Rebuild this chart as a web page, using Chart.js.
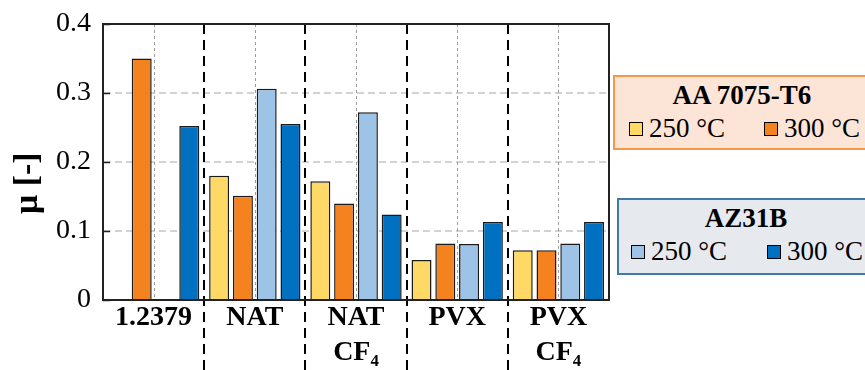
<!DOCTYPE html>
<html><head><meta charset="utf-8">
<script src="https://cdn.jsdelivr.net/npm/chart.js@4"></script>
<style>
html,body{margin:0;padding:0;background:#fff;overflow:hidden;}
#wrap{position:relative;width:865px;height:370px;}
canvas{position:absolute;left:0;top:0;}
.lg{position:absolute;box-sizing:border-box;font-family:"Liberation Serif",serif;color:#000;}
.lg .t{position:absolute;left:0;right:0;text-align:center;font-weight:bold;font-size:27px;line-height:27px;}
.lg .it{position:absolute;display:flex;align-items:center;font-size:27px;line-height:27px;}
.lg .sq{width:14px;height:14px;border:1.5px solid #000;margin-right:6px;box-sizing:border-box;}
</style></head>
<body><div id="wrap"><canvas id="c" width="865" height="370"></canvas></div>
<script>
const categories = ["1.2379", "NAT", ["NAT", "CF\u2084"], "PVX", ["PVX", "CF\u2084"]];
const aa250 = [null, 0.180, 0.172, 0.058, 0.072];
const aa300 = [0.350, 0.151, 0.140, 0.082, 0.072];
const az250 = [null, 0.306, 0.272, 0.081, 0.082];
const az300 = [0.252, 0.255, 0.124, 0.113, 0.113];
const yTicks = ["0", "0.1", "0.2", "0.3", "0.4"];
const yTickValues = [0, 0.1, 0.2, 0.3, 0.4];
const seriesLabels = ["250 \u00B0C", "300 \u00B0C", "250 \u00B0C", "300 \u00B0C"];
const groupTitles = ["AA 7075-T6", "AZ31B"];
const yTitle = "\u03BC [-]";
const colors = ["#FFD966", "#F4831F", "#9DC3E6", "#0070C0"];

const serif = "'Liberation Serif', 'Times New Roman', serif";

const frame = {
  id: 'frame',
  beforeDatasetsDraw(chart) {
    const {ctx, chartArea: a, scales: {x}} = chart;
    ctx.save();
    ctx.strokeStyle = '#9c9c9c';
    ctx.lineWidth = 1;
    ctx.setLineDash([3, 3]);
    for (let i = 0; i < categories.length; i++) {
      const px = Math.round(x.getPixelForValue(i)) + 0.5;
      ctx.beginPath();
      ctx.moveTo(px, a.top);
      ctx.lineTo(px, a.bottom);
      ctx.stroke();
    }
    ctx.restore();
  },
  afterDraw(chart) {
    const {ctx, chartArea: a, scales: {x, y}} = chart;
    ctx.save();
    ctx.strokeStyle = '#000';
    ctx.lineWidth = 2;
    ctx.setLineDash([10, 6]);
    for (let i = 0; i < categories.length - 1; i++) {
      const px = (x.getPixelForValue(i) + x.getPixelForValue(i + 1)) / 2;
      ctx.beginPath();
      ctx.moveTo(Math.round(px), a.top);
      ctx.lineTo(Math.round(px), chart.height);
      ctx.stroke();
    }
    ctx.setLineDash([]);
    ctx.strokeStyle = '#222';
    ctx.strokeRect(a.left, a.top, a.right - a.left, a.bottom - a.top);
    ctx.lineWidth = 1.5;
    yTickValues.forEach(v => {
      const py = Math.round(y.getPixelForValue(v)) + 0.5;
      ctx.beginPath();
      ctx.moveTo(a.left, py);
      ctx.lineTo(a.left + 7, py);
      ctx.stroke();
    });
    ctx.restore();
  }
};

const datasets = [aa250, aa300, az250, az300].map((d, i) => ({
  label: seriesLabels[i],
  data: d,
  backgroundColor: colors[i],
  borderColor: '#1a1a1a',
  borderWidth: 1.5,
  categoryPercentage: 0.94,
  barPercentage: 0.84
}));

new Chart(document.getElementById('c'), {
  type: 'bar',
  data: {labels: categories, datasets},
  options: {
    responsive: false,
    animation: false,
    layout: {padding: {left: 10, right: 256, top: 24, bottom: 0}},
    plugins: {legend: {display: false}, tooltip: {enabled: false}},
    scales: {
      x: {
        grid: {display: false, drawTicks: false},
        border: {display: true, color: '#222', width: 2},
        ticks: {color: '#000', font: {family: serif, size: 28, weight: 'bold', lineHeight: 1.25}, padding: 0, maxRotation: 0, autoSkip: false},
        afterFit(s) { s.height = 70; s.paddingLeft = 0; s.paddingRight = 0; }
      },
      y: {
        min: 0, max: 0.4,
        grid: {color: '#d3d3d3', lineWidth: 2, drawTicks: false},
        border: {display: true, color: '#222', width: 2, dash: [7, 4]},
        ticks: {stepSize: 0.1, color: '#000', padding: 12, font: {family: serif, size: 28},
          callback: (v, i) => yTicks[i]},
        title: {display: true, text: yTitle + '\u00A0\u00A0\u00A0\u00A0\u00A0', color: '#000',
          font: {family: serif, size: 34, weight: 'bold', lineHeight: 1.1}, padding: {top: 0, bottom: 6}},
        afterFit(s) { s.width = 93; s.paddingTop = 0; s.paddingBottom = 0; }
      }
    }
  },
  plugins: [frame]
});

const wrap = document.getElementById('wrap');
const boxes = [
  {left: 613, top: 75, h: 75, fill: '#FCE4D6', border: '#F59A4A', idx: [0, 1], sq: [14, 149]},
  {left: 617, top: 198, h: 77, fill: '#E6EAEF', border: '#3E7CA6', idx: [2, 3], sq: [12, 148]}
];
boxes.forEach((b, k) => {
  const d = document.createElement('div');
  d.className = 'lg';
  Object.assign(d.style, {left: b.left + 'px', top: b.top + 'px', width: '258px', height: b.h + 'px',
    background: b.fill, border: '2px solid ' + b.border});
  const t = document.createElement('div');
  t.className = 't'; t.textContent = groupTitles[k]; t.style.top = '5px';
  d.appendChild(t);
  b.idx.forEach((si, j) => {
    const it = document.createElement('div');
    it.className = 'it';
    it.style.left = b.sq[j] + 'px';
    it.style.top = '38px';
    const s = document.createElement('div'); s.className = 'sq'; s.style.background = colors[si];
    const tx = document.createElement('span'); tx.textContent = seriesLabels[si];
    it.appendChild(s); it.appendChild(tx);
    d.appendChild(it);
  });
  wrap.appendChild(d);
});
</script></body></html>
